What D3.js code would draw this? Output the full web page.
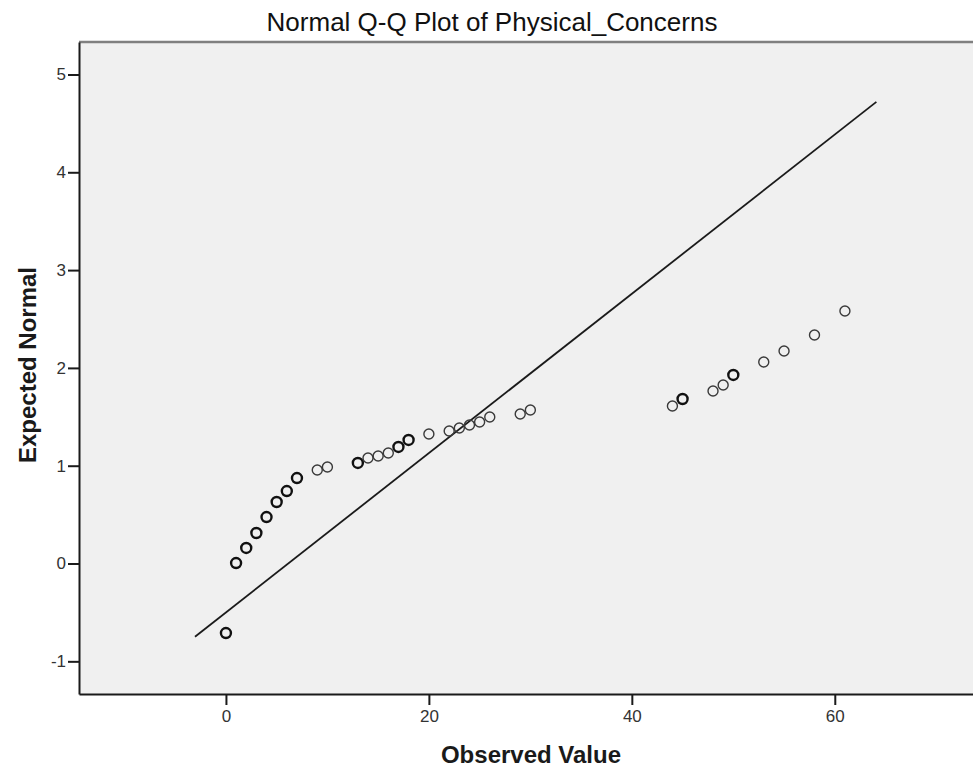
<!DOCTYPE html>
<html>
<head>
<meta charset="utf-8">
<script src="https://cdn.jsdelivr.net/npm/d3@7"></script>
<style>
  body { margin: 0; background: #fff; }
  svg { display: block; font-family: "Liberation Sans", Arial, sans-serif; }
</style>
</head>
<body>
<div id="chart"></div>
<script>
var observed = [0, 1, 2, 3, 4, 5, 6, 7, 9, 10, 13, 14, 15, 16, 17, 18, 20, 22, 23, 24, 25, 26, 29, 30, 44, 45, 48, 49, 50, 53, 55, 58, 61];
var expected = [-0.711, 0.005, 0.159, 0.312, 0.475, 0.629, 0.741, 0.874, 0.956, 0.987, 1.028, 1.079, 1.100, 1.130, 1.192, 1.263,
                1.324, 1.355, 1.386, 1.416, 1.447, 1.498, 1.529, 1.570, 1.610, 1.682, 1.764, 1.825, 1.928, 2.060, 2.173, 2.336, 2.582];
// ties (more than one case on the same value) draw heavier
var counts = [9, 3, 3, 3, 3, 2, 2, 3, 1, 1, 2, 1, 1, 1, 2, 2, 1, 1, 1, 1, 1, 1, 1, 1, 1, 2, 1, 1, 2, 1, 1, 1, 1];

// reference line end points
var refX = [-3.05, 64.1];
var refY = [-0.748, 4.72];

var xTicks = [0, 20, 40, 60];
var yTicks = [-1, 0, 1, 2, 3, 4, 5];

var WIDTH = 973,
    HEIGHT = 772,
    MARGINS = {top: 42, right: -14, bottom: 78, left: 79};

var x = d3.scaleLinear()
  .domain([-14.48, 75])
  .range([MARGINS.left, WIDTH - MARGINS.right]);

var y = d3.scaleLinear()
  .domain([-1.334, 5.332])
  .range([HEIGHT - MARGINS.bottom, MARGINS.top]);

var svg = d3.select("#chart").append("svg")
  .attr("width", WIDTH)
  .attr("height", HEIGHT);

// plot background
svg.append("rect")
  .attr("x", MARGINS.left)
  .attr("y", MARGINS.top)
  .attr("width", WIDTH - MARGINS.right - MARGINS.left)
  .attr("height", HEIGHT - MARGINS.bottom - MARGINS.top)
  .attr("fill", "#f0f0f0");

// top border
svg.append("line")
  .attr("x1", MARGINS.left).attr("x2", WIDTH)
  .attr("y1", MARGINS.top).attr("y2", MARGINS.top)
  .attr("stroke", "#808080")
  .attr("stroke-width", 2.5);

// plain hyphen for negatives, like the original
var plain = function(d) { return String(d); };

var xAxis = d3.axisBottom(x).tickValues(xTicks).tickFormat(plain).tickSize(11).tickSizeOuter(0);
var yAxis = d3.axisLeft(y).tickValues(yTicks).tickFormat(plain).tickSize(11).tickSizeOuter(0);

var gx = svg.append("g")
  .attr("transform", "translate(0," + (HEIGHT - MARGINS.bottom) + ")")
  .call(xAxis);
gx.select(".domain").attr("stroke", "#1a1a1a").attr("stroke-width", 2);
gx.selectAll(".tick line").attr("stroke", "#1a1a1a").attr("stroke-width", 2);
gx.selectAll(".tick text")
  .attr("y", 16)
  .attr("dy", "0.71em")
  .attr("fill", "#333")
  .style("font-size", "17px");

var gy = svg.append("g")
  .attr("transform", "translate(" + MARGINS.left + ",0)")
  .call(yAxis);
gy.select(".domain").attr("stroke", "#1a1a1a").attr("stroke-width", 2);
gy.selectAll(".tick line").attr("stroke", "#1a1a1a").attr("stroke-width", 2);
gy.selectAll(".tick text")
  .attr("x", -13)
  .attr("fill", "#333")
  .style("font-size", "17px");

// reference line
var lineFunc = d3.line()
  .x(function(d) { return x(d[0]); })
  .y(function(d) { return y(d[1]); });

svg.append("path")
  .attr("d", lineFunc(d3.zip(refX, refY)))
  .attr("stroke", "#1a1a1a")
  .attr("stroke-width", 1.8)
  .attr("fill", "none");

// points
var pts = observed.map(function(v, i) { return {x: v, y: expected[i], n: counts[i]}; });

svg.selectAll(".dot")
  .data(pts)
  .enter().append("circle")
    .attr("class", "dot")
    .attr("r", 5)
    .attr("cx", function(d) { return x(d.x); })
    .attr("cy", function(d) { return y(d.y); })
    .attr("fill", "none")
    .attr("stroke", function(d) { return d.n > 1 ? "#111" : "#3a3a3a"; })
    .attr("stroke-width", function(d) { return d.n > 1 ? 2.4 : 1.4; });

// title and axis titles
svg.append("text")
  .attr("x", 492)
  .attr("y", 31)
  .style("text-anchor", "middle")
  .style("font-size", "26px")
  .attr("fill", "#111")
  .text("Normal Q-Q Plot of Physical_Concerns");

svg.append("text")
  .attr("x", 531)
  .attr("y", 763)
  .style("text-anchor", "middle")
  .style("font-size", "24px")
  .style("font-weight", "bold")
  .attr("fill", "#1a1a1a")
  .text("Observed Value");

svg.append("text")
  .attr("transform", "translate(36," + 365 + ") rotate(-90)")
  .style("text-anchor", "middle")
  .style("font-size", "24px")
  .style("font-weight", "bold")
  .attr("fill", "#1a1a1a")
  .text("Expected Normal");
</script>
</body>
</html>
